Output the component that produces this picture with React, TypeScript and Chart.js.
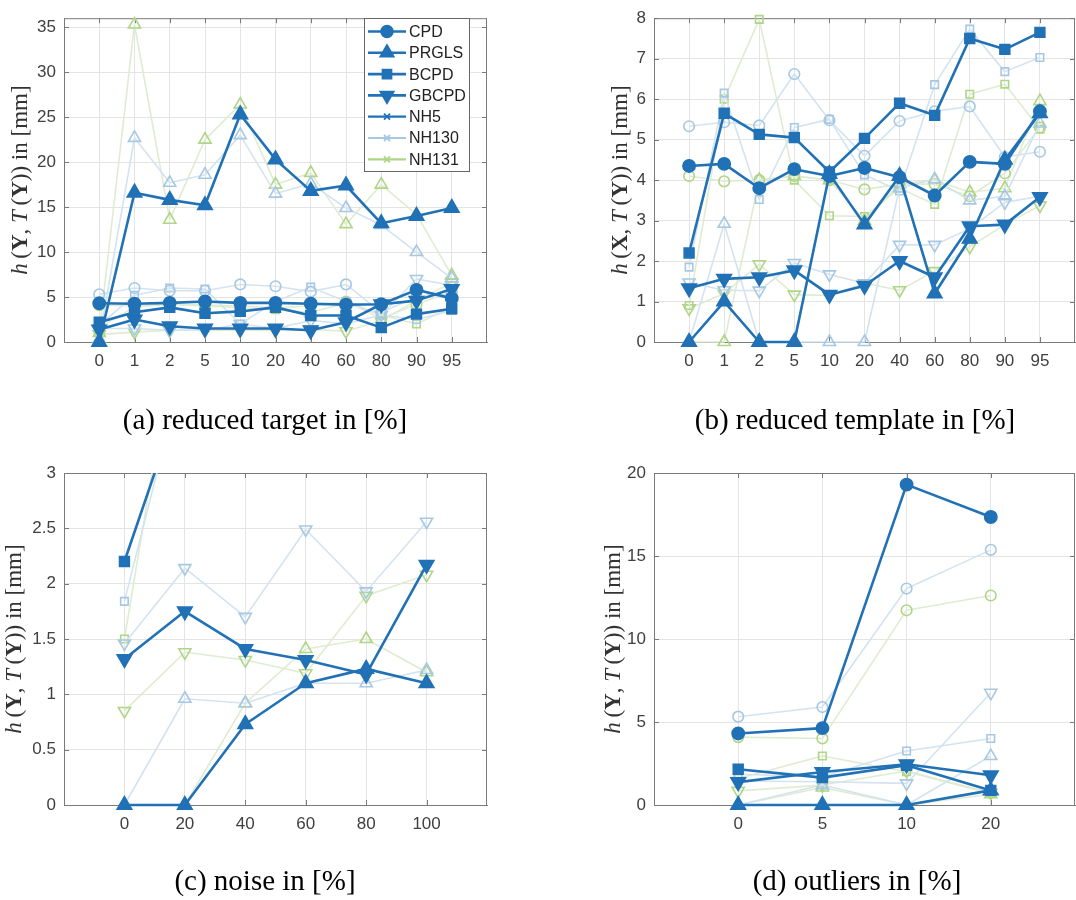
import React, { useEffect, useRef } from 'react';
import { Chart, registerables } from 'chart.js';

Chart.register(...registerables);

// ---------------- data ----------------
const methodNames = ['CPD', 'PRGLS', 'BCPD', 'GBCPD'];
const groupNames = ['NH5', 'NH130', 'NH131'];

const reductionLabels = ['0', '1', '2', '5', '10', '20', '40', '60', '80', '90', '95'];
const noiseLevels = [0, 20, 40, 60, 80, 100];
const outlierLabels = ['0', '5', '10', '20'];

const yTicksTarget = [0, 5, 10, 15, 20, 25, 30, 35];
const yTicksTemplate = [0, 1, 2, 3, 4, 5, 6, 7, 8];
const yTicksNoise = [0, 0.5, 1, 1.5, 2, 2.5, 3];
const yTicksOutliers = [0, 5, 10, 15, 20];

const captionA = '(a) reduced target in [%]';
const captionB = '(b) reduced template in [%]';
const captionC = '(c) noise in [%]';
const captionD = '(d) outliers in [%]';

// (a) reduced target
const targetNH5CPD = [4.3, 4.25, 4.35, 4.5, 4.35, 4.35, 4.25, 4.15, 4.2, 5.8, 4.85];
const targetNH5PRGLS = [0, 16.6, 15.8, 15.2, 25.3, 20.3, 16.8, 17.4, 13.2, 14.0, 14.9];
const targetNH5BCPD = [2.2, 3.3, 3.85, 3.2, 3.4, 3.85, 2.95, 2.95, 1.6, 3.1, 3.7];
const targetNH5GBCPD = [1.4, 2.5, 1.75, 1.5, 1.5, 1.5, 1.3, 2.2, 4.2, 4.6, 5.9];
const targetNH130CPD = [5.3, 6.0, 5.7, 5.7, 6.4, 6.2, 5.6, 6.4, 3.3, 5.0, 5.3];
const targetNH130PRGLS = [0.3, 22.7, 17.7, 18.6, 23.0, 16.5, 17.6, 14.9, 13.0, 10.0, 7.1];
const targetNH130BCPD = [1.85, 5.2, 6.0, 5.9, 2.0, 4.5, 6.1, 4.5, 3.0, 2.5, 3.5];
const targetNH130GBCPD = [1.5, 1.5, 1.3, 1.3, 2.0, 1.5, 2.4, 2.0, 3.0, 7.0, 6.3];
const targetNH131CPD = [4.1, 4.0, 4.2, 4.1, 4.0, 3.8, 4.0, 4.5, 2.6, 4.2, 5.6];
const targetNH131PRGLS = [1.0, 35.3, 13.6, 22.5, 26.4, 17.5, 18.8, 13.1, 17.5, 14.2, 7.4];
const targetNH131BCPD = [1.6, 3.9, 4.2, 4.0, 3.8, 3.6, 3.3, 4.3, 3.0, 2.0, 3.9];
const targetNH131GBCPD = [0.85, 1.1, 1.3, 1.3, 1.3, 1.3, 1.4, 1.2, 2.4, 4.6, 6.6];

// (b) reduced template
const templateNH5CPD = [4.35, 4.4, 3.8, 4.27, 4.1, 4.3, 4.07, 3.62, 4.45, 4.4, 5.7];
const templateNH5PRGLS = [0, 1.0, 0, 0, 4.15, 2.9, 4.1, 1.2, 2.55, 4.5, 5.65];
const templateNH5BCPD = [2.2, 5.65, 5.13, 5.05, 4.2, 5.03, 5.9, 5.6, 7.5, 7.23, 7.65];
const templateNH5GBCPD = [1.33, 1.56, 1.6, 1.77, 1.17, 1.39, 2.0, 1.6, 2.86, 2.9, 3.58];
const templateNH130CPD = [5.33, 5.43, 5.35, 6.62, 5.48, 4.6, 5.46, 5.7, 5.82, 4.57, 4.7];
const templateNH130PRGLS = [0, 2.92, 0, 0, 0, 0, 3.8, 4.02, 3.5, 3.6, 5.4];
const templateNH130BCPD = [1.85, 6.15, 3.52, 5.3, 5.5, 4.13, 3.73, 6.36, 7.73, 6.68, 7.03];
const templateNH130GBCPD = [1.47, 1.28, 1.27, 1.95, 1.67, 1.45, 2.4, 2.4, 2.8, 3.45, 3.6];
const templateNH131CPD = [4.1, 3.97, 4.0, 4.1, 4.0, 3.77, 3.9, 3.9, 3.6, 4.17, 5.3];
const templateNH131PRGLS = [0, 0, 4.0, 4.1, 4.0, 3.0, 3.9, 4.0, 3.7, 3.8, 5.95];
const templateNH131BCPD = [0.9, 6.0, 7.97, 4.0, 3.12, 3.1, 3.8, 3.4, 6.12, 6.37, 5.26];
const templateNH131GBCPD = [0.83, 1.2, 1.92, 1.17, 1.15, 1.45, 1.28, 1.75, 2.35, 2.9, 3.37];

// (c) noise
const noiseNH5CPD = [4.33, 4.6, 4.9, 5.1, 5.4, 5.7];
const noiseNH5PRGLS = [0, 0, 0.73, 1.1, 1.23, 1.1];
const noiseNH5BCPD = [2.2, 3.8, 4.2, 4.5, 4.8, 5.0];
const noiseNH5GBCPD = [1.32, 1.75, 1.41, 1.31, 1.18, 2.17];
const noiseNH130CPD = [5.33, 5.6, 5.8, 6.0, 6.2, 6.5];
const noiseNH130PRGLS = [0, 0.96, 0.92, 1.1, 1.1, 1.22];
const noiseNH130BCPD = [1.84, 4.0, 4.3, 4.6, 4.9, 5.2];
const noiseNH130GBCPD = [1.46, 2.14, 1.7, 2.49, 1.93, 2.56];
const noiseNH131CPD = [4.1, 4.4, 4.6, 4.9, 5.2, 5.4];
const noiseNH131PRGLS = [0, 0, 0.92, 1.41, 1.5, 1.2];
const noiseNH131BCPD = [1.5, 4.8, 5.0, 5.2, 5.4, 5.6];
const noiseNH131GBCPD = [0.85, 1.38, 1.31, 1.19, 1.89, 2.08];

// (d) outliers
const outlierNH5CPD = [4.31, 4.63, 19.3, 17.35];
const outlierNH5PRGLS = [0, 0, 0, 0.88];
const outlierNH5BCPD = [2.15, 1.65, 2.39, 0.88];
const outlierNH5GBCPD = [1.38, 1.99, 2.45, 1.79];
const outlierNH130CPD = [5.32, 5.9, 13.04, 15.37];
const outlierNH130PRGLS = [0, 1.2, 0, 2.95];
const outlierNH130BCPD = [1.85, 1.7, 3.25, 4.01];
const outlierNH130GBCPD = [1.45, 1.4, 1.3, 6.76];
const outlierNH131CPD = [4.09, 4.01, 11.73, 12.62];
const outlierNH131PRGLS = [0, 1.05, 0, 0.65];
const outlierNH131BCPD = [1.6, 2.95, 2.0, 0.7];
const outlierNH131GBCPD = [0.85, 1.2, 2.05, 0.74];

// ---------------- styles ----------------
const DARK = '#2071b5';
const LIGHT_LINE = '#d3e3f0';
const LIGHT_MARK = '#a6c8e3';
const GREEN_LINE = '#dfecd1';
const GREEN_MARK = '#afd587';
const AXIS_COLOR = '#7a7a7a';
const GRID_COLOR = '#e4e4e4';
const TICK_FONT = "'Liberation Sans', Arial, sans-serif";
const SERIF = "'Liberation Serif', 'Times New Roman', serif";

const groupStyle = [
  { line: DARK, mark: DARK, fill: DARK, lw: 2.6, dark: true },
  { line: LIGHT_LINE, mark: LIGHT_MARK, fill: 'rgba(0,0,0,0)', lw: 1.6, dark: false },
  { line: GREEN_LINE, mark: GREEN_MARK, fill: 'rgba(0,0,0,0)', lw: 1.6, dark: false },
];

const methodMarker: Record<string, { style: string; rot: number; rDark: number; rLight: number }> = {
  CPD: { style: 'circle', rot: 0, rDark: 6.2, rLight: 5.3 },
  PRGLS: { style: 'triangle', rot: 0, rDark: 8.5, rLight: 7 },
  BCPD: { style: 'rect', rot: 0, rDark: 7, rLight: 5.3 },
  GBCPD: { style: 'triangle', rot: 180, rDark: 8.5, rLight: 7 },
};

type Segment = { t: string; s: string };
const yTitleY: Segment[] = [
  { t: 'h', s: 'italic' }, { t: '\u2009(', s: 'normal' }, { t: 'Y', s: 'bold' }, { t: ', ', s: 'normal' },
  { t: 'T', s: 'italic' }, { t: '\u2009(', s: 'normal' }, { t: 'Y', s: 'bold' }, { t: ')) in [mm]', s: 'normal' },
];
const yTitleX: Segment[] = [
  { t: 'h', s: 'italic' }, { t: '\u2009(', s: 'normal' }, { t: 'X', s: 'bold' }, { t: ', ', s: 'normal' },
  { t: 'T', s: 'italic' }, { t: '\u2009(', s: 'normal' }, { t: 'Y', s: 'bold' }, { t: ')) in [mm]', s: 'normal' },
];

interface PlotDef {
  key: string;
  pageLeft: number; pageTop: number; width: number; height: number;
  area: { left: number; right: number; top: number; bottom: number };
  xs: number[]; xLabels: string[]; xMin: number; xMax: number;
  yMax: number; yTicks: number[];
  series: number[][][];
  caption: string; capPad: number;
  yTitle: Segment[]; yTitlePos: number;
  legend: boolean; clipTop: boolean;
}

const idx = (n: number) => Array.from({ length: n }, (_, i) => i);

const plots: PlotDef[] = [
  {
    key: 'a', pageLeft: 0, pageTop: 0, width: 530, height: 440,
    area: { left: 64, right: 487, top: 10, bottom: 342 },
    xs: idx(reductionLabels.length), xLabels: reductionLabels, xMin: -1, xMax: reductionLabels.length,
    yMax: 36, yTicks: yTicksTarget,
    series: [
      [targetNH5CPD, targetNH5PRGLS, targetNH5BCPD, targetNH5GBCPD],
      [targetNH130CPD, targetNH130PRGLS, targetNH130BCPD, targetNH130GBCPD],
      [targetNH131CPD, targetNH131PRGLS, targetNH131BCPD, targetNH131GBCPD],
    ],
    caption: captionA, capPad: 1, yTitle: yTitleY, yTitlePos: 21, legend: true, clipTop: false,
  },
  {
    key: 'b', pageLeft: 590, pageTop: 0, width: 530, height: 440,
    area: { left: 64, right: 485, top: 10, bottom: 342 },
    xs: idx(reductionLabels.length), xLabels: reductionLabels, xMin: -1, xMax: reductionLabels.length,
    yMax: 8, yTicks: yTicksTemplate,
    series: [
      [templateNH5CPD, templateNH5PRGLS, templateNH5BCPD, templateNH5GBCPD],
      [templateNH130CPD, templateNH130PRGLS, templateNH130BCPD, templateNH130GBCPD],
      [templateNH131CPD, templateNH131PRGLS, templateNH131BCPD, templateNH131GBCPD],
    ],
    caption: captionB, capPad: 1, yTitle: yTitleX, yTitlePos: 31, legend: false, clipTop: false,
  },
  {
    key: 'c', pageLeft: 0, pageTop: 440, width: 530, height: 460,
    area: { left: 64, right: 487, top: 33, bottom: 365 },
    xs: noiseLevels, xLabels: noiseLevels.map(String), xMin: -20, xMax: 120,
    yMax: 3, yTicks: yTicksNoise,
    series: [
      [noiseNH5CPD, noiseNH5PRGLS, noiseNH5BCPD, noiseNH5GBCPD],
      [noiseNH130CPD, noiseNH130PRGLS, noiseNH130BCPD, noiseNH130GBCPD],
      [noiseNH131CPD, noiseNH131PRGLS, noiseNH131BCPD, noiseNH131GBCPD],
    ],
    caption: captionC, capPad: 0, yTitle: yTitleY, yTitlePos: 15, legend: false, clipTop: true,
  },
  {
    key: 'd', pageLeft: 590, pageTop: 440, width: 534, height: 460,
    area: { left: 64, right: 485, top: 33, bottom: 365 },
    xs: idx(outlierLabels.length), xLabels: outlierLabels, xMin: -1, xMax: outlierLabels.length,
    yMax: 20, yTicks: yTicksOutliers,
    series: [
      [outlierNH5CPD, outlierNH5PRGLS, outlierNH5BCPD, outlierNH5GBCPD],
      [outlierNH130CPD, outlierNH130PRGLS, outlierNH130BCPD, outlierNH130GBCPD],
      [outlierNH131CPD, outlierNH131PRGLS, outlierNH131BCPD, outlierNH131GBCPD],
    ],
    caption: captionD, capPad: 0, yTitle: yTitleY, yTitlePos: 24, legend: false, clipTop: false,
  },
];

// ---------------- plugins ----------------
const framePlugin = {
  id: 'frame',
  beforeDatasetsDraw(chart: any) {
    const { ctx, chartArea: a, scales } = chart;
    ctx.save();
    ctx.strokeStyle = AXIS_COLOR;
    ctx.lineWidth = 1;
    ctx.beginPath();
    ctx.moveTo(a.left, a.top + 0.5);
    ctx.lineTo(a.right, a.top + 0.5);
    ctx.moveTo(a.right - 0.5, a.top);
    ctx.lineTo(a.right - 0.5, a.bottom);
    for (const t of scales.x.ticks) {
      const px = Math.round(scales.x.getPixelForValue(t.value)) + 0.5;
      ctx.moveTo(px, a.bottom);
      ctx.lineTo(px, a.bottom - 5);
      ctx.moveTo(px, a.top);
      ctx.lineTo(px, a.top + 5);
    }
    for (const t of scales.y.ticks) {
      const py = Math.round(scales.y.getPixelForValue(t.value)) + 0.5;
      ctx.moveTo(a.left, py);
      ctx.lineTo(a.left + 5, py);
      ctx.moveTo(a.right, py);
      ctx.lineTo(a.right - 5, py);
    }
    ctx.stroke();
    ctx.restore();
  },
};

function makeYTitlePlugin(segments: Segment[], cx: number) {
  return {
    id: 'ytitle',
    afterDraw(chart: any) {
      const { ctx, chartArea: a } = chart;
      const cy = (a.top + a.bottom) / 2;
      ctx.save();
      ctx.translate(cx, cy);
      ctx.rotate(-Math.PI / 2);
      ctx.fillStyle = '#333';
      ctx.textBaseline = 'middle';
      ctx.textAlign = 'left';
      const fonts = segments.map((s) => `${s.s} 23px ${SERIF}`);
      let total = 0;
      segments.forEach((s, i) => {
        ctx.font = fonts[i];
        total += ctx.measureText(s.t).width;
      });
      let x = -total / 2;
      segments.forEach((s, i) => {
        ctx.font = fonts[i];
        ctx.fillText(s.t, x, 0);
        x += ctx.measureText(s.t).width;
      });
      ctx.restore();
    },
  };
}

function drawMarker(ctx: CanvasRenderingContext2D, kind: string, x: number, y: number, r: number, color: string, filled: boolean) {
  ctx.beginPath();
  if (kind === 'circle') ctx.arc(x, y, r, 0, Math.PI * 2);
  else if (kind === 'up') {
    ctx.moveTo(x, y - r); ctx.lineTo(x + r * 0.866, y + r * 0.5); ctx.lineTo(x - r * 0.866, y + r * 0.5); ctx.closePath();
  } else if (kind === 'down') {
    ctx.moveTo(x, y + r); ctx.lineTo(x + r * 0.866, y - r * 0.5); ctx.lineTo(x - r * 0.866, y - r * 0.5); ctx.closePath();
  } else if (kind === 'square') {
    ctx.rect(x - r * 0.707, y - r * 0.707, r * 1.414, r * 1.414);
  } else if (kind === 'x') {
    ctx.moveTo(x - r, y - r); ctx.lineTo(x + r, y + r);
    ctx.moveTo(x - r, y + r); ctx.lineTo(x + r, y - r);
  }
  ctx.strokeStyle = color;
  ctx.lineWidth = kind === 'x' ? 1.8 : 1.5;
  if (filled && kind !== 'x') {
    ctx.fillStyle = color;
    ctx.fill();
  }
  ctx.stroke();
}

const legendEntries = [
  { label: methodNames[0], kind: 'circle', r: 6, color: DARK, lw: 2.6 },
  { label: methodNames[1], kind: 'up', r: 8, color: DARK, lw: 2.6 },
  { label: methodNames[2], kind: 'square', r: 6.5, color: DARK, lw: 2.6 },
  { label: methodNames[3], kind: 'down', r: 8, color: DARK, lw: 2.6 },
  { label: groupNames[0], kind: 'x', r: 3, color: DARK, lw: 2.2 },
  { label: groupNames[1], kind: 'x', r: 3, color: LIGHT_MARK, lw: 2.2 },
  { label: groupNames[2], kind: 'x', r: 3, color: GREEN_MARK, lw: 2.2 },
];

const legendPlugin = {
  id: 'legendBox',
  afterDraw(chart: any) {
    const ctx: CanvasRenderingContext2D = chart.ctx;
    const x0 = 364, y0 = 18, w = 105, h = 153;
    ctx.save();
    ctx.fillStyle = '#fff';
    ctx.fillRect(x0, y0, w, h);
    ctx.strokeStyle = '#666';
    ctx.lineWidth = 1;
    ctx.strokeRect(x0 + 0.5, y0 + 0.5, w, h);
    legendEntries.forEach((e, i) => {
      const y = 31.5 + i * 21.3;
      ctx.strokeStyle = e.color;
      ctx.lineWidth = e.lw;
      ctx.beginPath();
      ctx.moveTo(368, y);
      ctx.lineTo(406, y);
      ctx.stroke();
      drawMarker(ctx, e.kind, 387, y, e.r, e.color, true);
      ctx.fillStyle = '#222';
      ctx.font = `16px ${TICK_FONT}`;
      ctx.textBaseline = 'middle';
      ctx.textAlign = 'left';
      ctx.fillText(e.label, 409, y + 1);
    });
    ctx.restore();
  },
};

// ---------------- chart config ----------------
function buildConfig(p: PlotDef): any {
  const datasets: any[] = [];
  p.series.forEach((group, gi) => {
    const gs = groupStyle[gi];
    group.forEach((vals, mi) => {
      const m = methodMarker[methodNames[mi]];
      datasets.push({
        label: `${groupNames[gi]} ${methodNames[mi]}`,
        data: p.xs.map((x, i) => ({ x, y: vals[i] })),
        borderColor: gs.line,
        borderWidth: gs.lw,
        borderJoinStyle: 'round',
        pointStyle: m.style,
        pointRotation: m.rot,
        pointRadius: gs.dark ? m.rDark : m.rLight,
        pointBorderWidth: gs.dark ? 1.5 : 1.6,
        pointBorderColor: gs.mark,
        pointBackgroundColor: gs.fill,
        tension: 0,
        fill: false,
        xAxisID: 'x',
        yAxisID: 'y',
        clip: p.clipTop ? { left: 20, right: 20, top: 0, bottom: 20 } : false,
      });
    });
  });

  const capFontSize = 29;
  const capLine = capFontSize * 1.2;
  const xAxisHeight = p.height - p.capPad - capLine - p.area.bottom;
  const rightSpace = p.width - p.area.right;

  return {
    type: 'line',
    data: { datasets },
    options: {
      animation: false,
      responsive: false,
      maintainAspectRatio: false,
      events: [],
      layout: { padding: { left: 0, top: p.area.top, right: 0, bottom: 0 } },
      plugins: {
        legend: { display: false },
        tooltip: { enabled: false },
        title: {
          display: true,
          position: 'bottom',
          text: p.caption,
          color: '#000',
          font: { family: SERIF, size: capFontSize, weight: 'normal', lineHeight: 1.2 },
          padding: { top: 0, bottom: p.capPad },
        },
      },
      scales: {
        x: {
          type: 'linear',
          min: p.xMin,
          max: p.xMax,
          afterBuildTicks: (s: any) => { s.ticks = p.xs.map((v) => ({ value: v })); },
          afterFit: (s: any) => { s.height = xAxisHeight; },
          ticks: {
            autoSkip: false,
            maxRotation: 0,
            padding: 9,
            color: '#404040',
            font: { family: TICK_FONT, size: 17 },
            callback: (v: number) => { const i = p.xs.indexOf(v); return i >= 0 ? p.xLabels[i] : ''; },
          },
          grid: { color: GRID_COLOR, drawTicks: false },
          border: { color: AXIS_COLOR, width: 1 },
        },
        y: {
          type: 'linear',
          position: 'left',
          min: 0,
          max: p.yMax,
          afterBuildTicks: (s: any) => { s.ticks = p.yTicks.map((v) => ({ value: v })); },
          afterFit: (s: any) => { s.width = p.area.left; },
          ticks: {
            padding: 8,
            color: '#404040',
            font: { family: TICK_FONT, size: 17 },
            callback: (v: number) => String(v),
          },
          grid: { color: GRID_COLOR, drawTicks: false },
          border: { color: AXIS_COLOR, width: 1 },
        },
        spacer: {
          type: 'linear',
          position: 'right',
          min: 0,
          max: 1,
          afterFit: (s: any) => { s.width = rightSpace; },
          ticks: { display: false },
          grid: { display: false, drawTicks: false },
          border: { display: false },
        },
      },
    },
    plugins: [framePlugin, makeYTitlePlugin(p.yTitle, p.yTitlePos), ...(p.legend ? [legendPlugin] : [])],
  };
}

function Plot({ def }: { def: PlotDef }) {
  const ref = useRef<HTMLCanvasElement>(null);
  useEffect(() => {
    if (!ref.current) return;
    const chart = new Chart(ref.current, buildConfig(def));
    return () => chart.destroy();
  }, [def]);
  return (
    <canvas
      ref={ref}
      width={def.width}
      height={def.height}
      style={{ position: 'absolute', left: def.pageLeft, top: def.pageTop, width: def.width, height: def.height }}
    />
  );
}

export default function App() {
  return (
    <div style={{ position: 'absolute', left: 0, top: 0, width: 1076, height: 900, overflow: 'hidden', background: '#fff' }}>
      {plots.map((p) => (
        <Plot key={p.key} def={p} />
      ))}
    </div>
  );
}
